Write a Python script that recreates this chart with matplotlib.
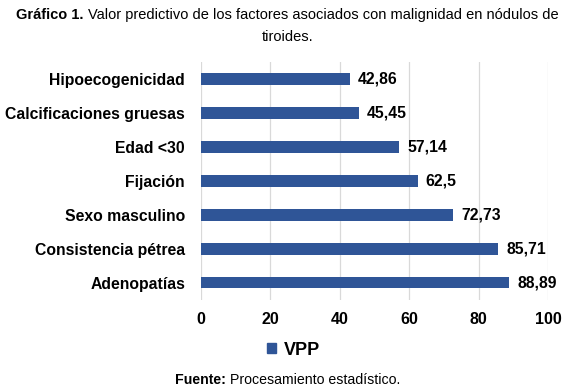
import matplotlib
matplotlib.use("Agg")
import matplotlib.pyplot as plt
from matplotlib.patches import Patch

plt.rcParams['font.family'] = ['Liberation Sans', 'DejaVu Sans']

factores = ["Adenopatías", "Consistencia pétrea", "Sexo masculino", "Fijación",
            "Edad <30", "Calcificaciones gruesas", "Hipoecogenicidad"]
vpp = [88.89, 85.71, 72.73, 62.5, 57.14, 45.45, 42.86]
etiquetas = ["88,89", "85,71", "72,73", "62,5", "57,14", "45,45", "42,86"]
ticks_x = [0, 20, 40, 60, 80, 100]

color = "#2F5597"

fig = plt.figure(figsize=(5.67, 3.92), dpi=100)
ax = fig.add_axes([0.3545, 0.235, 0.612, 0.607])

ax.barh(range(len(factores)), vpp, height=0.33, color=color, zorder=3)
for i, (v, t) in enumerate(zip(vpp, etiquetas)):
    ax.text(v + 2.3, i, t, va="center", ha="left", fontsize=11.3, fontweight="bold")

ax.set_xlim(0, 100)
ax.set_ylim(-0.5, len(factores) - 0.5)
ax.set_xticks(ticks_x)
ax.set_xticklabels([str(t) for t in ticks_x], fontsize=11.5, fontweight="bold")
ax.set_yticks(range(len(factores)))
ax.set_yticklabels(factores, fontsize=11.3, fontweight="bold")
ax.tick_params(length=0)
ax.tick_params(axis="y", pad=11.5)
ax.tick_params(axis="x", pad=9)
ax.grid(axis="x", color="#D9D9D9", linewidth=0.9, zorder=0)
for s in ax.spines.values():
    s.set_visible(False)

fig.legend(handles=[Patch(color=color, label="VPP")], loc="center",
           bbox_to_anchor=(0.518, 0.107), frameon=False,
           prop={"weight": "bold", "size": 13}, handlelength=0.5,
           handleheight=0.5, handletextpad=0.4)

# titulo con parte en negrita
fig.canvas.draw()
r = fig.canvas.get_renderer()


def mixed(y, bold, normal, size, xc):
    t1 = fig.text(0, y, bold, fontsize=size, fontweight="bold", va="center")
    t2 = fig.text(0, y, normal, fontsize=size, va="center")
    w1 = t1.get_window_extent(r).width / fig.bbox.width
    w2 = t2.get_window_extent(r).width / fig.bbox.width
    x0 = xc - (w1 + w2) / 2
    t1.set_x(x0)
    t2.set_x(x0 + w1)


mixed(1 - 15 / 392, "Gráfico 1. ",
      "Valor predictivo de los factores asociados con malignidad en nódulos de", 10.5, 0.507)
fig.text(0.507, 1 - 37 / 392, "tiroides.", fontsize=10.5, ha="center", va="center")
mixed(1 - 380 / 392, "Fuente: ", "Procesamiento estadístico.", 10.2, 0.508)

fig.savefig("out.png", dpi=100)
